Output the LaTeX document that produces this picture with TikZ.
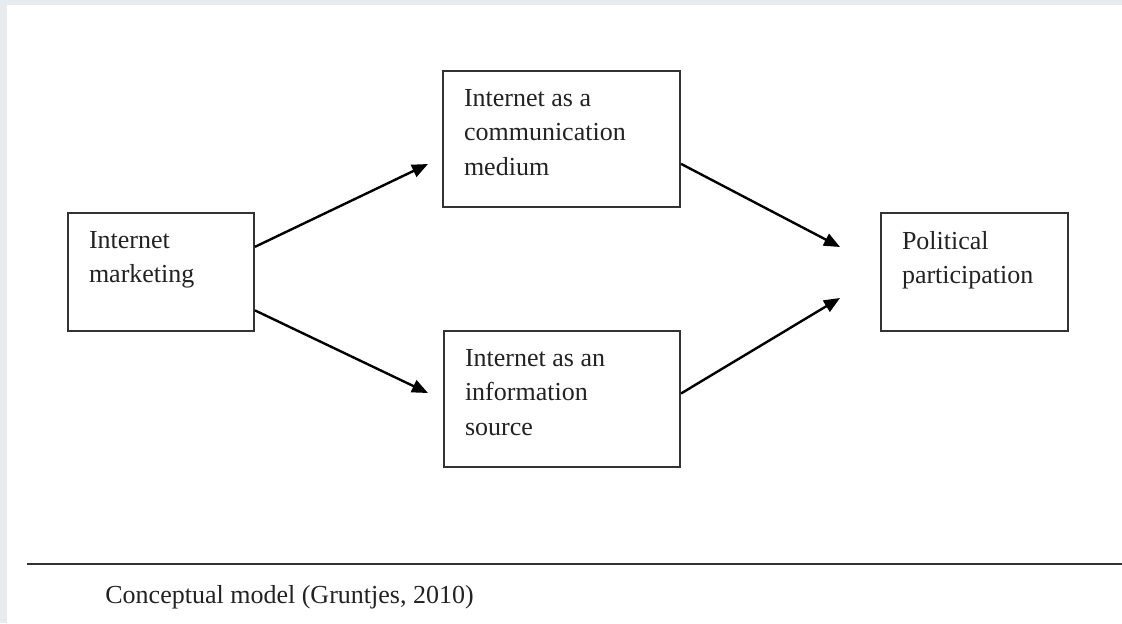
\documentclass[tikz,border=0pt]{standalone}
\usepackage{fontspec}
\setmainfont{Liberation Serif}
\usetikzlibrary{arrows.meta,calc}
\definecolor{edgegray}{HTML}{E8EBEE}
\definecolor{boxline}{HTML}{333333}
\definecolor{inkcol}{HTML}{222222}
\newcommand{\boxtext}[3]{\parbox[c][#2][t]{#1}{\raggedright #3}}
\begin{document}
\begin{tikzpicture}[x=0.5pt,y=-0.5pt,
  box/.style={draw=boxline, line width=1pt, inner xsep=10.5pt, inner ysep=9pt,
    anchor=north west, text=inkcol, font=\fontsize{13pt}{17.25pt}\selectfont},
  link/.style={line width=1.2pt, draw=black, -{Triangle[length=8pt,width=6.5pt]}},
  captext/.style={anchor=base west, inner sep=0pt, text=inkcol, font=\fontsize{13pt}{16pt}\selectfont},
  rulestyle/.style={draw=boxline, line width=1pt}
]
\useasboundingbox (0,0) rectangle (1122,623);
\fill[edgegray] (0,0) rectangle (7,623);
\fill[edgegray] (0,0) rectangle (1122,5);

\node[box] (im) at (67,212) {\boxtext{72pt}{41pt}{Internet\\marketing}};
\node[box] (cm) at (442,70) {\boxtext{97.5pt}{50pt}{Internet as a\\communication\\medium}};
\node[box] (is) at (443,330) {\boxtext{97pt}{50pt}{Internet as an\\information\\source}};
\node[box] (pp) at (880,212) {\boxtext{72.5pt}{41pt}{Political\\participation}};

\coordinate (t1) at (428,164);
\coordinate (t2) at (428,393);
\coordinate (t3) at (840,247);
\coordinate (t4) at (840,298);

\draw[link] ($(im.north east)!0.29!(im.south east)$) -- (t1);
\draw[link] ($(im.north east)!0.82!(im.south east)$) -- (t2);
\draw[link] ($(cm.north east)!0.68!(cm.south east)$) -- (t3);
\draw[link] ($(is.north east)!0.46!(is.south east)$) -- (t4);

\coordinate (r1) at (27,564);
\coordinate (r2) at (1122,564);
\draw[rulestyle] (r1) -- (r2);
\node[captext] (cap) at (105,603) {Conceptual model (Gruntjes, 2010)};
\end{tikzpicture}
\end{document}
